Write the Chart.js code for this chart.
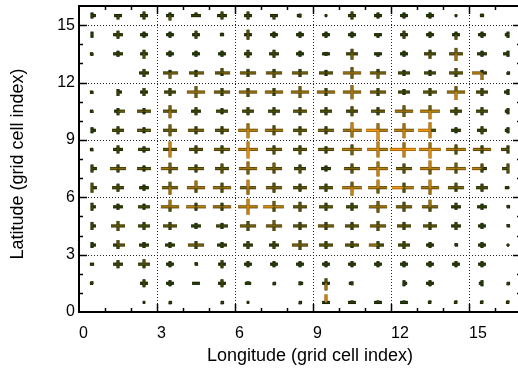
<!DOCTYPE html>
<html>
<head>
<meta charset="utf-8">
<script src="https://cdn.jsdelivr.net/npm/chart.js@4.4.1/dist/chart.umd.min.js"></script>
<style>
  html, body { margin: 0; padding: 0; background: #fff; overflow: hidden; }
  #wrap { width: 518px; height: 371px; overflow: hidden; }
</style>
</head>
<body>
<div id="wrap"><canvas id="chart" width="524" height="371"></canvas></div>
<script>
// cell centres
const lonCells = [0.5, 1.5, 2.5, 3.5, 4.5, 5.5, 6.5, 7.5, 8.5, 9.5, 10.5, 11.5, 12.5, 13.5, 14.5, 15.5, 16.5];
const latRows = [15.5, 14.5, 13.5, 12.5, 11.5, 10.5, 9.5, 8.5, 7.5, 6.5, 5.5, 4.5, 3.5, 2.5, 1.5, 0.5];
const xTicks = [0, 3, 6, 9, 12, 15];
const yTicks = [0, 3, 6, 9, 12, 15];
const xMax = 17;
const yMax = 16;
const xTitle = "Longitude (grid cell index)";
const yTitle = "Latitude (grid cell index)";

// arm lengths in grid-cell units, one row per latitude (top row first)
const armLeft = [
  [.04,.15,.15,.15,.19,.19,.15,.15,.12,.04,.15,.15,.15,.15,.04,.08,0],
  [.04,.19,.15,.15,.15,.08,.15,.15,.15,.15,.15,.15,.15,.15,.15,.15,.12],
  [.08,.19,.15,.15,.15,.15,.15,.19,.15,.15,.23,.15,.15,.23,.27,.19,.19],
  [0,0,.19,.27,.27,.27,.31,.31,.31,.27,.35,.31,.23,.23,.27,.38,.04],
  [.08,.04,.15,.23,.35,.31,.35,.35,.35,.35,.35,.31,.23,.27,.35,.23,.15],
  [.08,.15,.27,.27,.19,.23,.23,.23,.27,.23,.23,.27,.35,.38,.23,.23,.12],
  [.04,.23,.27,.27,.31,.27,.38,.35,.27,.31,.35,.46,.38,.46,.19,.19,.12],
  [.08,.19,.23,.27,.27,.31,.38,.31,.27,.31,.38,.42,.54,.42,.38,.35,.27],
  [.04,.31,.27,.35,.31,.27,.35,.31,.23,.19,.31,.38,.31,.38,.38,.38,.23],
  [.04,.23,.19,.31,.35,.35,.31,.31,.27,.27,.38,.38,.46,.35,.31,.23,.12],
  [.04,.19,.23,.35,.38,.35,.38,.42,.27,.27,.23,.35,.31,.31,.19,.19,.04],
  [.04,.27,.23,.27,.19,.23,.31,.31,.27,.31,.27,.31,.27,.27,.19,.15,.04],
  [.04,.19,.19,.19,.31,.19,.19,.19,.31,.27,.27,.35,.23,.15,.04,.15,.04],
  [.08,.19,.23,.15,.04,.15,.15,.15,.15,.15,.15,.15,.15,.15,.15,.15,0],
  [.08,0,.15,.15,.15,.15,.12,.04,.04,.15,.12,0,.04,.15,0,.12,.04],
  [0,0,.04,.04,0,.04,.04,0,.04,.15,.15,.15,.15,.08,.08,.08,.08]
];
const armRight = [
  [.15,.15,.15,.15,.19,.19,.15,.15,.04,.04,.15,.15,.15,.15,.04,.08,0],
  [.04,.19,.15,.15,.15,.08,.15,.15,.15,.15,.15,.15,.15,.15,.15,.15,0],
  [.04,.19,.15,.15,.15,.15,.15,.19,.15,.15,.23,.15,.15,.23,.27,.19,0],
  [0,0,.19,.31,.31,.31,.31,.31,.31,.27,.35,.31,.23,.23,.27,.19,.08],
  [.04,.15,.15,.23,.35,.31,.35,.35,.35,.35,.35,.31,.23,.27,.35,.23,0],
  [.04,.27,.27,.27,.19,.23,.23,.23,.27,.23,.23,.27,.35,.38,.23,.23,0],
  [.15,.23,.27,.27,.31,.27,.38,.35,.27,.31,.38,.38,.38,.23,.19,.19,0],
  [.04,.19,.23,.27,.27,.31,.38,.31,.27,.31,.38,.38,.46,.42,.38,.35,0],
  [.19,.31,.27,.31,.31,.27,.35,.31,.23,.19,.31,.38,.31,.38,.38,.19,0],
  [.19,.23,.19,.31,.35,.35,.31,.31,.27,.27,.38,.35,.38,.35,.31,.23,.04],
  [.15,.19,.23,.35,.38,.35,.38,.38,.27,.27,.23,.35,.31,.31,.19,.19,.08],
  [.15,.27,.23,.27,.19,.23,.31,.31,.27,.31,.27,.31,.27,.27,.19,.15,.08],
  [.15,.27,.19,.19,.31,.19,.19,.19,.31,.27,.27,.23,.23,.15,.08,.15,.04],
  [.08,.19,.23,.15,.08,.15,.15,.15,.15,.15,.15,.15,.15,.15,.15,.15,0],
  [.04,0,.15,.15,.15,.15,.12,.08,.12,.15,0,0,.12,.15,0,0,.08],
  [0,0,.04,.08,0,.08,.04,0,.08,.15,.15,.15,.15,.04,.04,.04,.04]
];
const armUp = [
  [.16,.05,.21,.16,.16,.21,.21,.05,.10,.05,.21,.16,.16,.16,.05,.10,0],
  [.16,.21,.16,.16,.21,.10,.26,.16,.16,.16,.16,.05,.21,.16,.16,.16,.16],
  [.05,.16,.21,.16,.16,.16,.21,.21,.16,.10,.26,.05,.16,.21,.31,.16,.16],
  [0,0,.21,.16,.16,.26,.21,.21,.21,.16,.31,.21,.16,.16,.26,.16,.05],
  [.05,.16,.21,.21,.31,.21,.21,.21,.31,.21,.37,.21,.16,.21,.31,.21,.16],
  [.05,.16,.16,.31,.21,.16,.21,.21,.21,.21,.26,.21,.31,.31,.21,.21,.16],
  [.16,.21,.16,.31,.21,.21,.37,.26,.21,.21,.42,.37,.37,.42,.16,.21,.16],
  [.05,.21,.16,.42,.21,.21,.42,.21,.21,.16,.26,.42,.37,.37,.26,.21,.21],
  [.21,.21,.16,.31,.21,.26,.37,.31,.21,.16,.26,.37,.26,.42,.31,.26,.26],
  [.26,.21,.16,.31,.37,.26,.42,.26,.21,.21,.31,.42,.26,.42,.26,.21,.05],
  [.21,.16,.16,.37,.21,.21,.42,.31,.26,.21,.21,.31,.26,.37,.21,.16,.10],
  [.21,.26,.21,.21,.16,.16,.26,.31,.21,.21,.21,.26,.21,.21,.21,.16,.10],
  [.16,.26,.16,.16,.21,.16,.21,.21,.26,.21,.21,.21,.21,.16,.10,.16,.05],
  [.05,.21,.26,.16,.10,.21,.16,.16,.16,.16,.16,.16,.16,.16,.16,.16,0],
  [.10,0,.21,.16,0,.21,.10,.05,.10,.26,.10,0,.16,.16,0,.16,.05],
  [0,0,.05,.05,0,.05,.05,0,.05,.42,.10,.10,.10,.10,.10,.10,.10]
];
const armDown = [
  [.16,.21,.21,.26,.05,.21,.21,.21,.10,.05,.21,.16,.16,.16,.05,.05,0],
  [.16,.21,.16,.16,.21,.05,.26,.16,.16,.16,.16,.16,.21,.16,.26,.16,.16],
  [.10,.16,.26,.16,.16,.16,.21,.21,.16,.10,.31,.16,.16,.26,.37,.16,.16],
  [0,0,.21,.31,.21,.16,.21,.26,.21,.16,.31,.31,.16,.16,.21,.37,.10],
  [.10,.21,.21,.21,.31,.21,.26,.21,.31,.21,.37,.21,.16,.21,.42,.21,.16],
  [.10,.21,.16,.37,.21,.16,.21,.21,.21,.21,.26,.21,.31,.42,.21,.21,.16],
  [.16,.21,.16,.31,.21,.21,.42,.26,.26,.21,.37,.52,.42,.42,.16,.21,.16],
  [.10,.21,.16,.42,.21,.21,.47,.26,.26,.21,.31,.42,.42,.47,.26,.21,.21],
  [.21,.21,.16,.26,.21,.26,.31,.26,.26,.16,.26,.42,.26,.31,.26,.21,.26],
  [.26,.21,.16,.37,.26,.26,.37,.26,.21,.21,.42,.31,.26,.37,.21,.21,.05],
  [.21,.16,.16,.26,.21,.21,.42,.26,.26,.21,.21,.31,.26,.26,.16,.16,.05],
  [.21,.26,.21,.21,.16,.16,.26,.26,.21,.21,.21,.26,.21,.21,.21,.16,.05],
  [.16,.21,.16,.16,.21,.16,.21,.21,.26,.21,.16,.21,.21,.16,.05,.16,.05],
  [.05,.21,.21,.16,.05,.21,.16,.16,.16,.16,.16,.16,.16,.16,.16,.16,0],
  [.05,0,.21,.16,0,.21,0,.10,.10,.37,.10,0,.16,.16,0,.16,.10],
  [0,0,.05,.10,0,.10,.05,0,.10,.05,0,0,0,.05,.05,.05,.05]
];

// colour of an arm from its length: dark green -> olive -> orange
const coreStops = [[40, 60, 8], [124, 102, 14], [244, 154, 18]];
const edgeStops = [[20, 30, 0], [66, 56, 6], [156, 96, 6]];
function ramp(stops, len) {
  let t = (len - 0.17) / 0.28;
  t = Math.max(0, Math.min(1, t)) * 2;
  const i = Math.min(1, Math.floor(t));
  const f = t - i;
  const a = stops[i], b = stops[i + 1];
  return "rgb(" + a.map((v, k) => Math.round(v + (b[k] - v) * f)).join(",") + ")";
}

function buildArms() {
  const pts = [];
  const lens = [];
  latRows.forEach((lat, r) => {
    lonCells.forEach((lon, c) => {
      const arms = [
        [lon - armLeft[r][c], lat, armLeft[r][c]],
        [lon + armRight[r][c], lat, armRight[r][c]],
        [lon, lat + armUp[r][c], armUp[r][c]],
        [lon, lat - armDown[r][c], armDown[r][c]]
      ];
      for (const [x, y, len] of arms) {
        if (!len) continue;
        pts.push({ x: lon, y: lat }, { x: x, y: y }, { x: lon, y: null });
        lens.push(len, len, len);
      }
    });
  });
  return { pts, lens };
}

const arms = buildArms();
const font = "'Liberation Sans', Arial, Helvetica, sans-serif";

const framePlugin = {
  id: "frame",
  beforeDatasetsDraw(chart) {
    const { ctx, chartArea: a, scales: { x, y } } = chart;
    ctx.save();
    ctx.strokeStyle = "#222";
    ctx.lineWidth = 1;
    ctx.setLineDash([1, 2]);
    ctx.beginPath();
    xTicks.forEach((v) => {
      if (v <= x.min || v >= x.max) return;
      const px = Math.round(x.getPixelForValue(v)) + 0.5;
      ctx.moveTo(px, a.top);
      ctx.lineTo(px, a.bottom);
    });
    yTicks.forEach((v) => {
      if (v <= y.min || v >= y.max) return;
      const py = Math.round(y.getPixelForValue(v)) + 0.5;
      ctx.moveTo(a.left, py);
      ctx.lineTo(a.right, py);
    });
    ctx.stroke();
    ctx.restore();
  },
  afterDatasetsDraw(chart) {
    const { ctx, chartArea: a, scales: { x, y } } = chart;
    ctx.save();
    ctx.strokeStyle = "#000";
    ctx.lineWidth = 1.5;
    ctx.beginPath();
    for (let v = 1; v < xMax; v++) {
      const px = Math.round(x.getPixelForValue(v)) + 0.5;
      const len = v % 3 === 0 ? 8 : 4;
      ctx.moveTo(px, a.bottom);
      ctx.lineTo(px, a.bottom - len);
      ctx.moveTo(px, a.top);
      ctx.lineTo(px, a.top + len);
    }
    for (let v = 1; v < yMax; v++) {
      const py = Math.round(y.getPixelForValue(v)) + 0.5;
      const len = v % 3 === 0 ? 8 : 4;
      ctx.moveTo(a.left, py);
      ctx.lineTo(a.left + len, py);
      ctx.moveTo(a.right, py);
      ctx.lineTo(a.right - len, py);
    }
    ctx.stroke();
    ctx.lineWidth = 2;
    ctx.strokeRect(a.left, a.top, a.right - a.left, a.bottom - a.top);

    // axis titles
    ctx.fillStyle = "#000";
    ctx.font = "18px " + font;
    ctx.textAlign = "center";
    ctx.textBaseline = "middle";
    ctx.fillText(xTitle, 310, 356);
    ctx.translate(18, 164);
    ctx.rotate(-Math.PI / 2);
    ctx.fillText(yTitle, 0, 0);
    ctx.restore();
  }
};

new Chart(document.getElementById("chart"), {
  type: "scatter",
  data: {
    datasets: [
      {
        data: arms.pts.map((p) => ({ ...p })),
        showLine: true,
        spanGaps: false,
        pointRadius: 0,
        borderWidth: 1.5,
        borderCapStyle: "butt",
        order: 0,
        segment: { borderColor: (c) => ramp(coreStops, arms.lens[c.p0DataIndex]) }
      },
      {
        data: arms.pts.map((p) => ({ ...p })),
        showLine: true,
        spanGaps: false,
        pointRadius: 0,
        borderWidth: 3.2,
        borderCapStyle: "butt",
        order: 1,
        segment: { borderColor: (c) => ramp(edgeStops, arms.lens[c.p0DataIndex]) }
      }
    ]
  },
  options: {
    responsive: false,
    animation: false,
    events: [],
    layout: { padding: { top: 6, right: 3, left: 0, bottom: 0 } },
    plugins: { legend: { display: false }, tooltip: { enabled: false } },
    scales: {
      x: {
        type: "linear",
        min: 0,
        max: xMax,
        afterBuildTicks: (s) => { s.ticks = xTicks.map((v) => ({ value: v })); },
        afterFit: (s) => { s.height = 59; s.paddingLeft = 0; s.paddingRight = 0; },
        grid: { display: false, drawTicks: false },
        border: { display: false },
        ticks: { color: "#000", align: "start", padding: 12, maxRotation: 0, font: { family: font, size: 16 } }
      },
      y: {
        type: "linear",
        min: 0,
        max: yMax,
        afterBuildTicks: (s) => { s.ticks = yTicks.map((v) => ({ value: v })); },
        afterFit: (s) => { s.width = 79; s.paddingTop = 0; s.paddingBottom = 0; },
        grid: { display: false, drawTicks: false },
        border: { display: false },
        ticks: { color: "#000", padding: 4, font: { family: font, size: 16 } }
      }
    }
  },
  plugins: [framePlugin]
});
</script>
</body>
</html>
